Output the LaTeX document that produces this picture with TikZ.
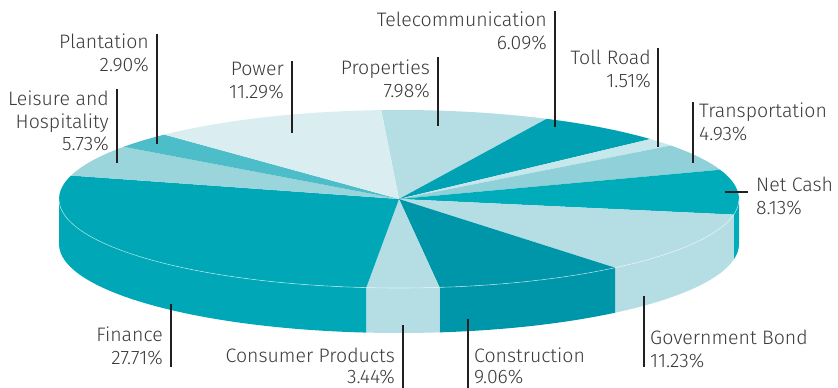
\documentclass[tikz,border=0pt]{standalone}
\usepackage{fontspec}
\setmainfont{Fira Sans Light}
\definecolor{cPower}{HTML}{DAEEF2}
\definecolor{cProp}{HTML}{B5DEE4}
\definecolor{cTele}{HTML}{00A1B2}
\definecolor{cToll}{HTML}{C6E7EC}
\definecolor{cTrans}{HTML}{90D0D8}
\definecolor{cCash}{HTML}{00ACBA}
\definecolor{cBond}{HTML}{B5DEE4}
\definecolor{cConst}{HTML}{0096AA}
\definecolor{cCons}{HTML}{B5DEE4}
\definecolor{cFin}{HTML}{00A8B7}
\definecolor{cLeis}{HTML}{9AD5DC}
\definecolor{cPlant}{HTML}{4DBDC9}
\definecolor{txt}{HTML}{3A3A3A}
\definecolor{leader}{HTML}{231F20}
\newcommand\pieTop[3]{\fill[#3] (C) -- ({399+340*cos(#1)},{199-89*sin(#1)}) arc[start angle=#1, end angle=#2, x radius=340pt, y radius=89pt] -- cycle;}
\newcommand\pieSide[3]{\fill[#3] ({399+340*cos(#1)},{199-89*sin(#1)}) arc[start angle=#1, end angle=#2, x radius=340pt, y radius=89pt] -- ++(0,45) arc[start angle=#2, end angle=#1, x radius=340pt, y radius=89pt] -- cycle;}
\tikzset{
  lbl/.style={inner sep=0pt, text=txt, font=\fontsize{19.5}{22.5}\selectfont},
  lblR/.style={lbl, align=right, anchor=north east},
  lblL/.style={lbl, align=left, anchor=north west},
  lblLow/.style={font=\fontsize{19.5}{20.5}\selectfont},
  lead/.style={draw=leader, line width=2pt}
}
\begin{document}
\begin{tikzpicture}[x=1pt,y=-1pt]
\useasboundingbox (0,0) rectangle (838,388);
\coordinate (C) at (399,199);
% side walls (front half)
\pieSide{-10.104}{0}{cCash}
\pieSide{-50.532}{-10.104}{cBond}
\pieSide{-83.148}{-50.532}{cConst}
\pieSide{-95.532}{-83.148}{cCons}
\pieSide{-180}{-95.532}{cFin}
% top faces
\pieTop{93}{64.272}{cProp}
\pieTop{64.272}{42.348}{cTele}
\pieTop{42.348}{36.912}{cToll}
\pieTop{36.912}{19.164}{cTrans}
\pieTop{19.164}{-10.104}{cCash}
\pieTop{-10.104}{-50.532}{cBond}
\pieTop{-50.532}{-83.148}{cConst}
\pieTop{-83.148}{-95.532}{cCons}
\pieTop{-95.532}{-195.288}{cFin}
\pieTop{-195.288}{-215.916}{cLeis}
\pieTop{-215.916}{-226.356}{cPlant}
\pieTop{-226.356}{-267}{cPower}
% rim highlight
\draw[white, opacity=0.55, line width=0.6pt] ({399+340*cos(-180)},{199-89*sin(-180)}) arc[start angle=-180, end angle=0, x radius=340pt, y radius=89pt];

% labels
\node[lblR] (tele) at (547,12) {Telecommunication\\6.09\%};
\node[lblR] (prop) at (430,60) {Properties\\7.98\%};
\node[lblR] (pow) at (284,62) {Power\\11.29\%};
\node[lblR] (plant) at (149,34) {Plantation\\2.90\%};
\node[lblR] (leis) at (109,91) {Leisure and\\Hospitality\\5.73\%};
\node[lblR] (toll) at (651,50) {Toll Road\\1.51\%};
\node[lblR] (fin) at (163,327) {Finance\\27.71\%};
\node[lblR, lblLow] (cons) at (395,348) {Consumer Products\\3.44\%};
\node[lblL] (trans) at (699,103) {Transportation\\4.93\%};
\node[lblL] (cash) at (756,177) {Net Cash\\8.13\%};
\node[lblL, lblLow] (const) at (474,348) {Construction\\9.06\%};
\node[lblL] (bond) at (650,330) {Government Bond\\11.23\%};

% leader lines
\coordinate (teleA) at (555,11);  \coordinate (teleB) at (555,127);
\coordinate (propA) at (438,57);  \coordinate (propB) at (438,126);
\coordinate (powA) at (292,61);   \coordinate (powB) at (292,133);
\coordinate (plantA) at (157,34); \coordinate (plantB) at (157,144);
\coordinate (leisA) at (117,89);  \coordinate (leisB) at (117,163);
\coordinate (tollA) at (658,48);  \coordinate (tollB) at (658,147);
\coordinate (transA) at (693,102);\coordinate (transB) at (693,163);
\coordinate (cashA) at (725,192); \coordinate (cashB) at (748,192);
\coordinate (finA) at (171,304);  \coordinate (finB) at (171,367);
\coordinate (consA) at (403,325); \coordinate (consB) at (403,388);
\coordinate (constA) at (468,319);\coordinate (constB) at (468,388);
\coordinate (bondA) at (644,296); \coordinate (bondB) at (644,367);
\foreach \n in {tele,prop,pow,plant,leis,toll,trans,cash,fin,cons,const,bond}
  \draw[lead] (\n A) -- (\n B);
\end{tikzpicture}
\end{document}
